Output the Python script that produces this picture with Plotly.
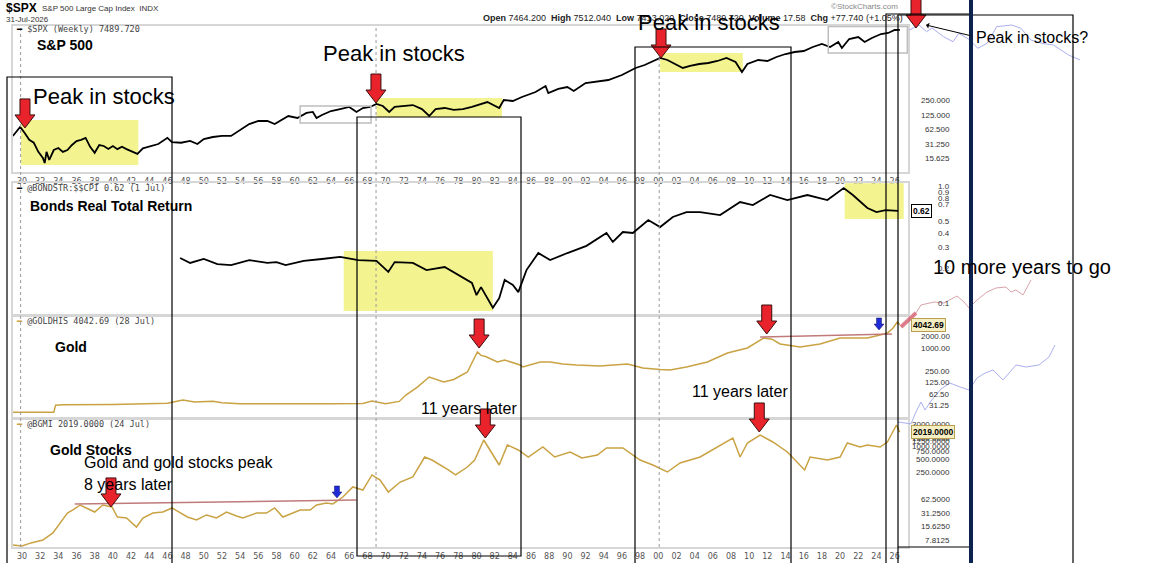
import math
import plotly.graph_objects as go

W, H = 1174, 563

# ---- values -----------------------------------------------------------
spx_years = [1929.0, 1929.4, 1929.8, 1930.3, 1930.8, 1931.3, 1931.8, 1932.3, 1932.5, 1932.7,
             1933.0, 1933.5, 1934.0, 1934.5, 1935.0, 1935.5, 1936.0, 1936.5, 1937.0, 1937.5,
             1938.0, 1938.5, 1939.0, 1939.5, 1940.0, 1940.5, 1941.0, 1941.5, 1942.0, 1942.7,
             1943.3, 1944.0, 1945.0, 1946.0, 1946.5, 1947.5, 1948.5, 1949.3, 1950.0, 1951.0,
             1952.0, 1953.0, 1954.0, 1955.0, 1956.0, 1957.0, 1957.8, 1958.5, 1959.3, 1960.3,
             1961.3, 1962.0, 1962.4, 1963.0, 1964.0, 1965.0, 1966.0, 1966.8, 1967.5, 1968.3,
             1969.0, 1969.7, 1970.4, 1971.0, 1972.0, 1973.0, 1974.0, 1974.8, 1975.5, 1976.5,
             1977.5, 1978.5, 1979.5, 1980.5, 1981.2, 1982.5, 1983.0, 1984.0, 1985.0, 1986.5,
             1987.6, 1987.9, 1989.0, 1990.0, 1990.7, 1992.0, 1993.5, 1994.5, 1996.0, 1997.5,
             1998.5, 1999.5, 2000.2, 2001.0, 2001.8, 2002.7, 2003.5, 2004.5, 2005.5, 2006.5,
             2007.5, 2008.5, 2009.2, 2009.8, 2011.0, 2012.0, 2013.0, 2014.0, 2015.0, 2016.0,
             2017.0, 2018.0, 2018.9, 2019.8, 2020.2, 2021.0, 2022.0, 2022.7, 2023.5, 2024.5,
             2025.3, 2026.0, 2026.58]
spx_vals = [47, 57, 72, 54, 39, 34, 22, 16.4, 12.9, 22,
            14.9, 24, 26.4, 22, 24, 30.5, 36.9, 39, 43, 28,
            21, 30.5, 29.1, 25.2, 29, 25, 28, 25, 22.9, 19.9,
            26, 28, 32, 43, 35, 34, 37, 32, 40.6, 44.7,
            47, 47, 62.5, 83, 96, 96, 83, 101, 122, 111,
            141, 148, 111, 128, 155, 170, 188, 148, 179, 188,
            217, 197, 148, 188, 197, 206, 170, 122, 170, 179,
            163, 170, 188, 217, 238, 179, 262, 250, 303, 384,
            512, 366, 444, 488, 403, 591, 650, 682, 867, 1211,
            1398, 1692, 1953, 1775, 1466, 1211, 1333, 1466, 1538, 1692,
            1953, 1613, 1000, 1466, 1775, 1692, 2048, 2364, 2601, 2729,
            3303, 3813, 3303, 4195, 3150, 4843, 5330, 4195, 5080, 6150,
            6453, 7449, 7490]

bond_years = [1947.4, 1948.5, 1950.0, 1951.5, 1953.0, 1955.0, 1957.0, 1958.0, 1959.0, 1961.0,
              1963.0, 1965.0, 1967.0, 1969.0, 1970.3, 1971.0, 1973.0, 1974.5, 1976.5, 1978.0,
              1979.5, 1980.0, 1980.5, 1981.8, 1982.5, 1983.1, 1984.0, 1984.6, 1985.5, 1986.8,
              1988.1, 1990.0, 1992.1, 1994.3, 1995.0, 1996.1, 1997.2, 1998.9, 2000.2, 2001.6,
              2003.1, 2004.6, 2006.8, 2009.0, 2010.4, 2012.3, 2014.2, 2016.4, 2018.6, 2020.4,
              2021.4, 2023.0, 2024.0, 2025.0, 2026.4]
bond_vals = [0.244, 0.221, 0.239, 0.216, 0.212, 0.234, 0.221, 0.225, 0.212, 0.230,
             0.239, 0.249, 0.234, 0.230, 0.185, 0.225, 0.221, 0.192, 0.204, 0.174,
             0.149, 0.117, 0.137, 0.091, 0.110, 0.158, 0.143, 0.124, 0.192, 0.269,
             0.234, 0.269, 0.310, 0.400, 0.335, 0.408, 0.400, 0.517, 0.450, 0.549,
             0.606, 0.606, 0.571, 0.739, 0.696, 0.849, 0.769, 0.849, 0.769, 0.975,
             0.849, 0.656, 0.606, 0.630, 0.620]

gold_years = [1929.0, 1933.5, 1933.7, 1934.5, 1940.0, 1946.0, 1947.7, 1949.0, 1951.0, 1952.0,
              1954.0, 1960.0, 1961.0, 1964.0, 1967.5, 1968.5, 1970.0, 1971.5, 1972.2, 1973.5,
              1974.8, 1976.4, 1977.5, 1979.0, 1980.1, 1980.5, 1981.0, 1982.3, 1983.1, 1984.8,
              1985.1, 1987.0, 1988.1, 1989.5, 1991.0, 1993.6, 1996.6, 1998.3, 2000.2, 2001.3,
              2003.1, 2005.4, 2007.6, 2009.8, 2011.6, 2012.5, 2013.4, 2015.6, 2017.8, 2020.0,
              2021.4, 2023.0, 2024.4, 2025.2, 2025.8, 2026.3, 2026.57]
gold_vals = [20.7, 20.7, 32, 32.5, 33, 36, 43.6, 38.6, 40.5, 37,
             35, 34.5, 36, 35, 35.5, 41, 35, 40, 58, 95,
             174, 129, 150, 236, 785, 640, 600, 430, 485, 359,
             320, 430, 430, 380, 359, 340, 381, 299, 275, 266,
             318, 430, 740, 1000, 1827, 1700, 1273, 1062, 1273, 1827,
             1827, 1827, 2189, 2469, 3300, 4793, 4043]

bgmi_years = [1929.0, 1930.0, 1931.0, 1932.3, 1933.4, 1934.5, 1935.0, 1935.6, 1936.4, 1937.3,
              1938.0, 1938.9, 1939.9, 1940.5, 1941.5, 1942.6, 1943.3, 1944.4, 1945.5, 1946.5,
              1947.4, 1948.2, 1949.2, 1950.3, 1951.4, 1952.5, 1953.6, 1954.3, 1955.8, 1956.9,
              1957.8, 1958.7, 1959.8, 1960.6, 1961.7, 1962.4, 1963.5, 1964.2, 1965.3, 1966.4,
              1967.5, 1968.5, 1969.4, 1970.3, 1971.6, 1973.0, 1974.3, 1975.1, 1976.9, 1977.7,
              1979.0, 1979.8, 1980.8, 1981.7, 1982.5, 1983.4, 1984.6, 1985.7, 1987.3, 1988.6,
              1990.3, 1991.6, 1993.3, 1994.3, 1996.1, 1998.0, 1999.4, 2001.0, 2002.4, 2004.6,
              2006.8, 2008.2, 2009.0, 2009.8, 2011.2, 2012.6, 2014.2, 2016.1, 2016.7, 2018.6,
              2020.0, 2020.8, 2022.2, 2023.0, 2024.4, 2025.2, 2026.2, 2026.56]
bgmi_vals = [6.2, 5.9, 6.9, 8.0, 11.5, 22.4, 32, 37.4, 48.3, 39.4,
             33.7, 48.3, 43.7, 26.1, 24.8, 15.6, 24.8, 32, 33.7, 41.5,
             32, 26.1, 22.4, 29, 24.8, 33.7, 27.5, 24.8, 32, 32,
             41.5, 26.1, 32, 37.4, 37.4, 48.3, 53.6, 50.9, 72.9, 122,
             104, 226, 174, 94, 157, 204, 568, 487, 292, 226,
             340, 487, 1361, 698, 377, 1053, 815, 568, 950, 568,
             735, 540, 630, 903, 903, 487, 377, 263, 418, 568,
             1053, 1508, 568, 1166, 1759, 1228, 735, 292, 568, 487,
             568, 1166, 950, 1053, 950, 1228, 2940, 2019]

# faint pasted "10 more years" projections
ghost_spx_years = [2027.63, 2028.68, 2029.51, 2030.11, 2031.38, 2032.42, 2033.06, 2034.29, 2035.14, 2036.16,
                   2037.23, 2038.89, 2039.90, 2040.98, 2042.21, 2043.48, 2044.30, 2045.14, 2046.39]
ghost_spx_vals = [7449, 9456, 6865, 8193, 5405, 4257, 6360, 4617, 3105, 3943,
                  8720, 9456, 8080, 4617, 3943, 3635, 2862, 2253, 1775]
ghost_gold_years = [2026.70, 2028.35, 2028.90, 2030.33, 2031.43, 2032.86, 2033.63, 2034.18, 2035.06, 2036.16,
                    2037.15, 2038.25, 2038.80, 2039.35, 2040.12, 2041.00]
ghost_gold_vals = [3546, 8245, 13350, 16000, 15060, 22970, 16000, 11140, 18050, 29240,
                   37200, 39500, 29240, 32970, 24400, 60300]
ghost_bgmi_years = [2026.37, 2027.80, 2028.35, 2028.90, 2029.34, 2030.00, 2031.10, 2032.09, 2033.19, 2034.18,
                    2035.06, 2035.94, 2036.82, 2037.92, 2039.35, 2040.45, 2041.88, 2042.98, 2043.64]
ghost_bgmi_vals = [11.6, 10.3, 21.2, 38.6, 23.8, 41.0, 84.7, 121, 95.3, 79.6,
                   164, 221, 266, 146, 359, 318, 359, 582, 1198]

tick_years = list(range(1930, 2027, 2))
tick_text = [str(y)[-2:] for y in tick_years]

y_ticks = [
    [15.625, 31.25, 62.5, 125, 250],
    [0.1, 0.2, 0.3, 0.4, 0.5, 0.7, 0.8, 0.9, 1.0],
    [31.25, 62.5, 125, 250, 1000, 2000],
    [7.8125, 15.625, 31.25, 62.5, 250, 500, 750, 1000, 1250, 1500, 3000],
]
y_tick_text = [
    ['15.625', '31.250', '62.500', '125.000', '250.000'],
    ['0.1', '0.2', '0.3', '0.4', '0.5', '0.7', '0.8', '0.9', '1.0'],
    ['31.25', '62.50', '125.00', '250.00', '1000.00', '2000.00'],
    ['7.8125', '15.6250', '31.2500', '62.5000', '250.0000', '500.0000', '750.0000',
     '1000.0000', '1250.0000', '1500.0000', '3000.0000'],
]
last_vals = [None, 0.62, 4042.69, 2019.0]
last_text = [None, '0.62', '4042.69', '2019.0000']

# highlighted periods: (panel, start, end, low, high)
zones = [(1, 1929.9, 1942.8, 11.7, 101), (1, 1969.0, 1982.8, 116, 288),
         (1, 2000.2, 2009.3, 1000, 2480),
         (2, 1965.4, 1981.8, 0.0853, 0.280), (2, 2020.5, 2027.0, 0.528, 1.07)]
# arrow tips: (panel, year, value)
red_arrows = [(1, 1930.33, 69), (1, 1968.94, 227), (1, 2000.30, 1953),
              (3, 1980.29, 1000), (3, 2011.93, 2325),
              (4, 1939.79, 43.7), (4, 1980.97, 1508), (4, 2011.11, 2052)]
blue_arrows = [(3, 2024.28, 2959), (4, 1964.65, 69.3)]
# resistance lines: (panel, x0, y0, x1, y1)
red_lines = [(4, 1935.8, 50.9, 1966.8, 62.5), (3, 2011.2, 1942, 2025.7, 2325)]
# stockcharts annotation boxes: (panel, x0, x1, low, high)
gray_boxes = [(1, 1960.6, 1968.4, 87, 197), (1, 2018.7, 2027.4, 2480, 8800)]

# ---- geometry ------------------------------------------------------------
X_DOMAIN = [12.7 / W, 908 / W]
X_RANGE = [1928.98, 2027.47]
PANELS = [  # (y domain, log10 range)
    ([1 - 172 / H, 1 - 26 / H], [0.9239, 3.9550]),
    ([1 - 315 / H, 1 - 183 / H], [-1.1032, 0.0322]),
    ([1 - 418 / H, 1 - 316 / H], [1.1682, 3.8377]),
    ([1 - 547 / H, 1 - 419 / H], [0.7473, 3.6021]),
]
GOLD = '#c9a243'
FONT = 'Liberation Sans, Arial, sans-serif'


def ypaper(panel, v):
    (d0, d1), (r0, r1) = PANELS[panel - 1]
    return d0 + (math.log10(v) - r0) / (r1 - r0) * (d1 - d0)


def ax(kind, i):
    return kind if i == 1 else f'{kind}{i}'


fig = go.Figure()
series = [(spx_years, spx_vals, '#000000', 1.8), (bond_years, bond_vals, '#000000', 1.8),
          (gold_years, gold_vals, GOLD, 1.5), (bgmi_years, bgmi_vals, GOLD, 1.5)]
for i, (xs, ys, col, w) in enumerate(series, start=1):
    fig.add_trace(go.Scatter(x=xs, y=ys, mode='lines', line=dict(color=col, width=w),
                             xaxis=ax('x', i), yaxis=ax('y', i), hoverinfo='skip'))

fig.add_trace(go.Scatter(x=ghost_spx_years, y=ghost_spx_vals, mode='lines',
                         line=dict(color='#aab0ee', width=1), xaxis='x5', yaxis='y5'))
fig.add_trace(go.Scatter(x=ghost_gold_years, y=ghost_gold_vals, mode='lines',
                         line=dict(color='#d9a3aa', width=1), xaxis='x5', yaxis='y6'))
fig.add_trace(go.Scatter(x=ghost_gold_years[:2], y=ghost_gold_vals[:2], mode='lines',
                         line=dict(color='rgba(214,90,110,0.75)', width=4), xaxis='x5', yaxis='y6'))
fig.add_trace(go.Scatter(x=ghost_bgmi_years, y=ghost_bgmi_vals, mode='lines',
                         line=dict(color='#aab0ee', width=1), xaxis='x5', yaxis='y6'))

layout = dict(width=W, height=H, margin=dict(l=0, r=0, t=0, b=0),
              paper_bgcolor='white', plot_bgcolor='rgba(0,0,0,0)',
              showlegend=False, font=dict(family=FONT, color='#000'))
for i, (dom, rng) in enumerate(PANELS, start=1):
    layout[ax('xaxis', i)] = dict(domain=X_DOMAIN, range=X_RANGE, anchor=ax('y', i),
                                  showline=True, mirror=True, linecolor='#d6d6d6', linewidth=2,
                                  showgrid=False, zeroline=False, ticks='',
                                  tickvals=tick_years, ticktext=tick_text,
                                  showticklabels=i in (1, 4),
                                  tickfont=dict(family='DejaVu Sans', size=8, color='#555'))
    layout[ax('yaxis', i)] = dict(domain=dom, range=rng, type='log', anchor=ax('x', i),
                                  side='right', showline=True, mirror=True,
                                  linecolor='#d6d6d6', linewidth=2, showgrid=False,
                                  zeroline=False, ticks='', showticklabels=False)
layout['xaxis5'] = dict(domain=[895 / W, 1110 / W], range=[2026.04, 2049.69],
                        visible=False, anchor='y5')
layout['yaxis5'] = dict(domain=[1 - 172 / H, 1.0], range=[0.9239, 4.4947], type='log',
                        visible=False, anchor='x5')
layout['yaxis6'] = dict(domain=[1 - 432 / H, 1 - 255 / H], range=[0.8013, 5.4344], type='log',
                        visible=False, anchor='x5')
fig.update_layout(**layout)

shapes = []
for p, x0, x1, lo, hi in zones:
    shapes.append(dict(type='rect', xref=ax('x', p), yref=ax('y', p), x0=x0, x1=x1, y0=lo, y1=hi,
                       fillcolor='#f3f38f', line=dict(width=0), layer='below'))
for p, x0, x1, lo, hi in gray_boxes:
    shapes.append(dict(type='rect', xref=ax('x', p), yref=ax('y', p), x0=x0, x1=x1, y0=lo, y1=hi,
                       line=dict(color='#bdbdbd', width=1.5)))
for p, x0, y0, x1, y1 in red_lines:
    shapes.append(dict(type='line', xref=ax('x', p), yref=ax('y', p), x0=x0, y0=y0, x1=x1, y1=y1,
                       line=dict(color='#c07a7a', width=1.5)))
for yr in (1929.85, 1968.95, 2000.1):
    shapes.append(dict(type='line', xref='x', yref='paper', x0=yr, x1=yr,
                       y0=1 - 547 / H, y1=1 - 26 / H, line=dict(color='#9a9a9a', width=1, dash='dot')))

RED_PATH = 'M 0 0 L -10 13 L -5 13 L -5 29 L 5 29 L 5 13 L 10 13 Z'
BLUE_PATH = 'M 0 0 L -5 6 L -2.5 6 L -2.5 12 L 2.5 12 L 2.5 6 L 5 6 Z'
for p, yr, v in red_arrows:
    shapes.append(dict(type='path', xref='x', yref='paper', xsizemode='pixel', ysizemode='pixel',
                       xanchor=yr, yanchor=ypaper(p, v), path=RED_PATH,
                       fillcolor='#e8232b', line=dict(color='#3a1010', width=1)))
for p, yr, v in blue_arrows:
    shapes.append(dict(type='path', xref='x', yref='paper', xsizemode='pixel', ysizemode='pixel',
                       xanchor=yr, yanchor=ypaper(p, v), path=BLUE_PATH,
                       fillcolor='#1f2bd6', line=dict(color='#101060', width=0.5)))
# arrow on the pasted projection area
shapes.append(dict(type='path', xref='paper', yref='paper', xsizemode='pixel', ysizemode='pixel',
                   xanchor=916 / W, yanchor=1 - 28 / H, path=RED_PATH,
                   fillcolor='#e8232b', line=dict(color='#3a1010', width=1)))

# black collage frames (pixel boxes)
frames = [(7, 77, 172, 580), (357, 117, 521, 556), (635, 47, 791, 580),
          (886, 14, 971, 580), (898, 15, 1073, 580)]
for x0, y0, x1, y1 in frames:
    shapes.append(dict(type='rect', xref='paper', yref='paper', x0=x0 / W, x1=x1 / W,
                       y0=1 - y1 / H, y1=1 - y0 / H, line=dict(color='black', width=1.2)))
shapes.append(dict(type='line', xref='paper', yref='paper', x0=898 / W, x1=971 / W,
                   y0=1 - 547 / H, y1=1 - 547 / H, line=dict(color='black', width=1.2)))
shapes.append(dict(type='line', xref='paper', yref='paper', x0=971 / W, x1=971 / W,
                   y0=0, y1=1, line=dict(color='#0c2350', width=4)))
fig.update_layout(shapes=shapes)

ann = []


def txt(x, y, text, size, bold=False, family=FONT, color='#000', xanchor='left'):
    ann.append(dict(x=x / W, y=1 - y / H, xref='paper', yref='paper', text=f'<b>{text}</b>' if bold else text,
                    showarrow=False, xanchor=xanchor, yanchor='middle',
                    font=dict(size=size, family=family, color=color)))


# header
txt(4, 8, '$SPX', 12, bold=True)
txt(40, 8, 'S&P 500 Large Cap Index  INDX', 8, color='#333')
txt(4, 20, '31-Jul-2026', 8, color='#333')
txt(905, 18, '<b>Open</b> 7464.200  <b>High</b> 7512.040  <b>Low</b> 7413.020  <b>Close</b> 7489.720  '
    '<b>Volume</b> 17.58  <b>Chg</b> +77.740 (+1.05%)', 9, color='#222', xanchor='right')
txt(900, 6, '©StockCharts.com', 8, color='#888', xanchor='right')

# series labels
mono = 'DejaVu Sans Mono, monospace'
txt(14, 29, '<span style="color:#000">━</span> $SPX (Weekly) 7489.720', 8.5, family=mono, color='#444')
txt(14, 188, '<span style="color:#000">━</span> @BONDSTR:$$CPI 0.62 (1 Jul)', 8.5, family=mono, color='#444')
txt(14, 321, f'<span style="color:{GOLD}">━</span> @GOLDHIS 4042.69 (28 Jul)', 8.5, family=mono, color='#444')
txt(14, 424, f'<span style="color:{GOLD}">━</span> @BGMI 2019.0000 (24 Jul)', 8.5, family=mono, color='#444')

# panel titles
txt(35, 45, 'S&P 500', 14, bold=True)
txt(28, 206, 'Bonds Real Total Return', 14, bold=True)
txt(53, 347, 'Gold', 14, bold=True)
txt(48, 450, 'Gold Stocks', 14, bold=True)

# commentary
txt(31, 96, 'Peak in stocks', 22)
txt(321, 53, 'Peak in stocks', 22)
txt(636, 23, 'Peak in stocks', 22)
txt(974, 37, 'Peak in stocks?', 16)
txt(931, 267, '10 more years to go', 20)
txt(419, 408, '11 years later', 16)
txt(690, 391, '11 years later', 16)
txt(82, 462, 'Gold and gold stocks peak', 16)
txt(82, 484, '8 years later', 16)

ann.append(dict(x=926 / W, y=1 - 25 / H, xref='paper', yref='paper', text='', showarrow=True,
                ax=46, ay=11, arrowhead=1, arrowsize=1, arrowwidth=1, arrowcolor='black'))

# right-hand price scales
for i in range(4):
    for v, t in zip(y_ticks[i], y_tick_text[i]):
        ann.append(dict(x=952 / W, xref='paper', y=math.log10(v), yref=ax('y', i + 1), text=t,
                        showarrow=False, xanchor='right', yanchor='middle',
                        font=dict(size=8, family=FONT, color='#333')))
    if last_vals[i] is not None:
        bg = 'white' if i == 1 else '#f6efc4'
        bc = 'black' if i == 1 else '#b9a050'
        ann.append(dict(x=911 / W, xref='paper', y=math.log10(last_vals[i]), yref=ax('y', i + 1),
                        text=f'<b>{last_text[i]}</b>', showarrow=False, xanchor='left',
                        yanchor='middle', bgcolor=bg, bordercolor=bc, borderwidth=1, borderpad=1,
                        font=dict(size=8.5, family=FONT, color='#000')))

fig.update_layout(annotations=ann)
# drop the page's default body margin so the chart sits at the window corner
fig.write_html("out.html", config={'displayModeBar': False},
               post_script="document.body.style.margin='0';")
